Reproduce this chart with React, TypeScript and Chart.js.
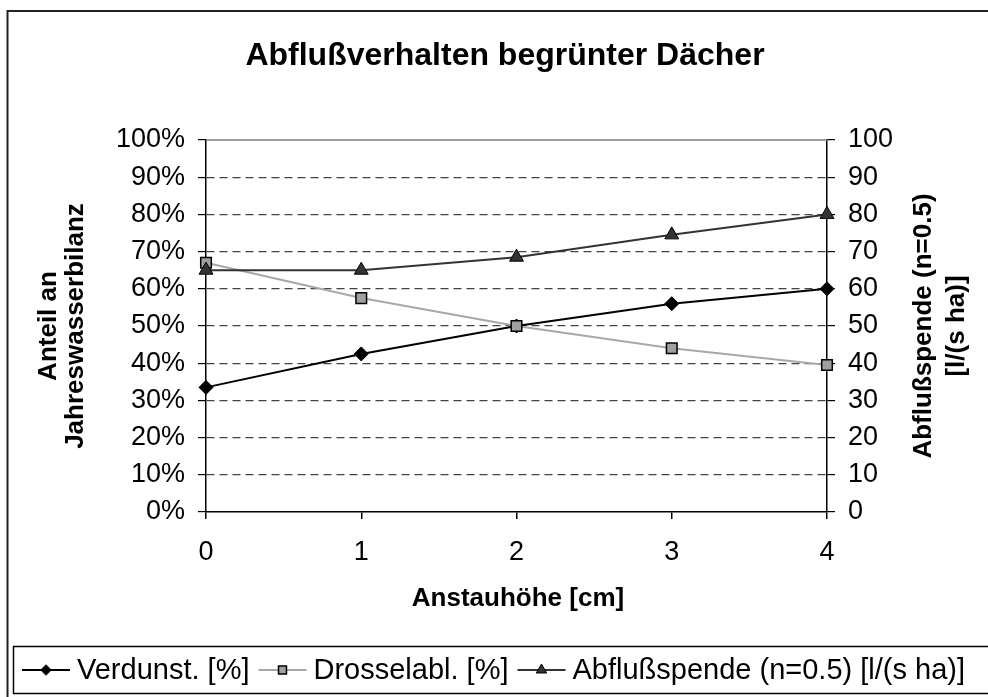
import React, { useEffect, useRef } from 'react';
import { Chart, registerables } from 'chart.js';

Chart.register(...registerables);

const categories = ['0', '1', '2', '3', '4'];
const verdunst = [33.5, 42.5, 50, 56, 60];
const drossel = [67, 57.5, 50, 44, 39.5];
const abfluss = [65, 65, 68.5, 74.5, 80];
const seriesLabels = ['Verdunst. [%]', 'Drosselabl. [%]', 'Abflußspende (n=0.5) [l/(s ha)]'];
const chartTitle = 'Abflußverhalten begrünter Dächer';
const xTitle = 'Anstauhöhe [cm]';
const yLeftTitle = ['Anteil an', 'Jahreswasserbilanz'];
const yRightTitle = ['Abflußspende (n=0.5)', '[l/(s ha)]'];

const FONT = "'Liberation Sans', Arial, Helvetica, sans-serif";
const W = 988;
const H = 697;

function drawMarker(ctx: CanvasRenderingContext2D, style: string, x: number, y: number, r: number, fill: string, stroke: string, lw: number) {
  ctx.save();
  ctx.beginPath();
  if (style === 'rectRot') {
    ctx.moveTo(x - r, y);
    ctx.lineTo(x, y - r);
    ctx.lineTo(x + r, y);
    ctx.lineTo(x, y + r);
    ctx.closePath();
  } else if (style === 'rect') {
    const s = r * Math.SQRT1_2;
    ctx.rect(x - s, y - s, 2 * s, 2 * s);
  } else {
    const h = r * 1.5;
    const half = r * Math.sqrt(3) / 2;
    ctx.moveTo(x, y - r);
    ctx.lineTo(x + half, y - r + h);
    ctx.lineTo(x - half, y - r + h);
    ctx.closePath();
  }
  ctx.fillStyle = fill;
  ctx.fill();
  ctx.lineWidth = lw;
  ctx.strokeStyle = stroke;
  ctx.stroke();
  ctx.restore();
}

const decor = {
  id: 'decor',
  beforeDraw(chart: any) {
    const ctx = chart.ctx;
    ctx.save();
    ctx.fillStyle = '#fff';
    ctx.fillRect(0, 0, chart.width, chart.height);
    ctx.restore();
  },
  afterDraw(chart: any) {
    const ctx: CanvasRenderingContext2D = chart.ctx;
    const ca = chart.chartArea;
    ctx.save();
    // plot area top border
    ctx.strokeStyle = '#808080';
    ctx.lineWidth = 1.5;
    ctx.beginPath();
    ctx.moveTo(ca.left, ca.top);
    ctx.lineTo(ca.right, ca.top);
    ctx.stroke();

    // outer chart border
    ctx.strokeStyle = '#222';
    ctx.lineWidth = 2;
    ctx.beginPath();
    ctx.moveTo(7.5, H + 2);
    ctx.lineTo(7.5, 11);
    ctx.lineTo(W + 2, 11);
    ctx.stroke();

    // legend box
    ctx.strokeStyle = '#000';
    ctx.lineWidth = 1.5;
    ctx.strokeRect(13.5, 646.5, W + 10, 47);

    ctx.fillStyle = '#000';
    ctx.textAlign = 'center';
    ctx.textBaseline = 'middle';
    ctx.font = `bold 32px ${FONT}`;
    ctx.fillText(chartTitle, 505, 56);

    ctx.font = `bold 26px ${FONT}`;
    ctx.fillText(xTitle, 518, 599);

    const cy = (ca.top + ca.bottom) / 2;
    ctx.save();
    ctx.translate(62, cy);
    ctx.rotate(-Math.PI / 2);
    ctx.fillText(yLeftTitle[0], 0, -13);
    ctx.fillText(yLeftTitle[1], 0, 14);
    ctx.restore();

    ctx.save();
    ctx.translate(940, cy);
    ctx.rotate(-Math.PI / 2);
    ctx.fillText(yRightTitle[0], 0, -16);
    ctx.fillText(yRightTitle[1], 0, 17);
    ctx.restore();

    // legend
    ctx.font = `29px ${FONT}`;
    ctx.textAlign = 'left';
    let x = 22;
    const ly = 670;
    chart.data.datasets.forEach((ds: any) => {
      ctx.strokeStyle = ds.borderColor;
      ctx.lineWidth = ds.borderWidth;
      ctx.beginPath();
      ctx.moveTo(x, ly);
      ctx.lineTo(x + 48, ly);
      ctx.stroke();
      drawMarker(ctx, ds.pointStyle, x + 24, ly, ds.pointRadius * 0.75, ds.pointBackgroundColor, ds.pointBorderColor, ds.pointBorderWidth);
      ctx.fillStyle = '#000';
      ctx.fillText(ds.label, x + 55, ly + 1);
      x += 55 + ctx.measureText(ds.label).width + 9;
    });
    ctx.restore();
  },
};

export default function App() {
  const ref = useRef<HTMLCanvasElement | null>(null);

  useEffect(() => {
    document.body.style.margin = '0';
    const canvas = ref.current;
    if (!canvas) return;
    const tickFont = { family: FONT, size: 27 };
    const chart = new Chart(canvas, {
      type: 'line',
      data: {
        labels: categories,
        datasets: [
          {
            label: seriesLabels[0],
            data: verdunst,
            yAxisID: 'y',
            borderColor: '#000',
            borderWidth: 2,
            pointStyle: 'rectRot',
            pointRadius: 7,
            pointBackgroundColor: '#000',
            pointBorderColor: '#000',
            pointBorderWidth: 1,
            tension: 0,
            order: 3,
          },
          {
            label: seriesLabels[1],
            data: drossel,
            yAxisID: 'y',
            borderColor: '#a8a8a8',
            borderWidth: 2,
            pointStyle: 'rect',
            pointRadius: 7.5,
            pointBackgroundColor: '#a0a0a0',
            pointBorderColor: '#000',
            pointBorderWidth: 1.5,
            tension: 0,
            order: 2,
          },
          {
            label: seriesLabels[2],
            data: abfluss,
            yAxisID: 'y1',
            borderColor: '#333',
            borderWidth: 2,
            pointStyle: 'triangle',
            pointRadius: 8,
            pointBackgroundColor: '#333',
            pointBorderColor: '#000',
            pointBorderWidth: 1,
            tension: 0,
            order: 1,
          },
        ],
      },
      options: {
        responsive: false,
        animation: false,
        events: [],
        layout: { padding: { top: 140, bottom: 125, left: 0, right: 0 } },
        plugins: {
          legend: { display: false },
          title: { display: false },
          tooltip: { enabled: false },
        },
        scales: {
          x: {
            type: 'category',
            offset: false,
            grid: { drawOnChartArea: false, drawTicks: true, tickLength: 7, color: '#000', lineWidth: 1.5 },
            border: { color: '#000', width: 1.5 },
            ticks: { color: '#000', font: tickFont, padding: 17, autoSkip: false, maxRotation: 0 },
            afterFit: (s: any) => { s.height = 60; },
          },
          y: {
            type: 'linear',
            position: 'left',
            min: 0,
            max: 100,
            grid: {
              drawOnChartArea: true,
              tickLength: 8,
              color: (c: any) => (c.tick && (c.tick.value === 0 || c.tick.value === 100) ? 'rgba(0,0,0,0)' : '#444'),
              tickColor: '#000',
              lineWidth: 1.2,
            },
            border: { color: '#000', width: 1.5, dash: [8, 5] },
            ticks: { stepSize: 10, color: '#000', font: tickFont, padding: 13, callback: (v: any) => `${v}%` },
            afterFit: (s: any) => { s.width = 206; },
          },
          y1: {
            type: 'linear',
            position: 'right',
            min: 0,
            max: 100,
            grid: { drawOnChartArea: false, tickLength: 8, color: '#000', lineWidth: 1.2 },
            border: { color: '#000', width: 1.5 },
            ticks: { stepSize: 10, color: '#000', font: tickFont, padding: 13 },
            afterFit: (s: any) => { s.width = W - 827; },
          },
        },
      },
      plugins: [decor],
    } as any);
    return () => chart.destroy();
  }, []);

  return (
    <div style={{ width: W, height: H, position: 'relative', background: '#fff' }}>
      <canvas ref={ref} width={W} height={H} style={{ display: 'block', width: W, height: H }} />
    </div>
  );
}
